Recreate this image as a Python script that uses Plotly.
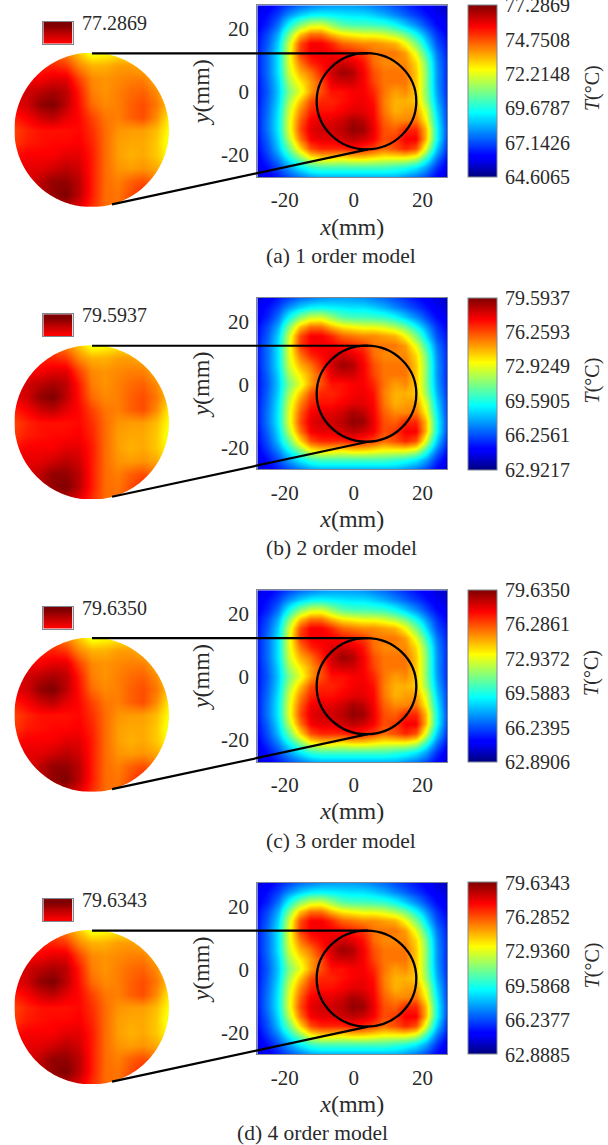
import numpy as np
import plotly.graph_objects as go

W, H = 608, 1145
FONT = "Liberation Serif"
INK = "#2a2a2a"
FRAME = "#7f8794"

CAPTIONS = ["(a) 1 order model", "(b) 2 order model", "(c) 3 order model", "(d) 4 order model"]
CAPTION_X = [341, 341, 341, 312]
T_MAX = [77.2869, 79.5937, 79.6350, 79.6343]
T_MIN = [64.6065, 62.9217, 62.8906, 62.8885]
CBAR_TICKS = [
    [64.6065, 67.1426, 69.6787, 72.2148, 74.7508, 77.2869],
    [62.9217, 66.2561, 69.5905, 72.9249, 76.2593, 79.5937],
    [62.8906, 66.2395, 69.5883, 72.9372, 76.2861, 79.6350],
    [62.8885, 66.2377, 69.5868, 72.9360, 76.2852, 79.6343],
]
TICK_TEXT = [
    ["64.6065", "67.1426", "69.6787", "72.2148", "74.7508", "77.2869"],
    ["62.9217", "66.2561", "69.5905", "72.9249", "76.2593", "79.5937"],
    ["62.8906", "66.2395", "69.5883", "72.9372", "76.2861", "79.6350"],
    ["62.8885", "66.2377", "69.5868", "72.9360", "76.2852", "79.6343"],
]
AX_TICKS = [-20, 0, 20]
AX_TEXT = ["-20", "0", "20"]

FIELD_PCT = [
    [8, 11, 15, 19, 23, 25, 27, 28, 28, 28, 27, 25, 23, 20, 17, 14, 11, 8, 6],
    [10, 14, 19, 27, 33, 37, 38, 37, 36, 35, 35, 33, 30, 26, 22, 18, 14, 10, 8],
    [11, 16, 24, 38, 50, 57, 58, 52, 46, 44, 44, 43, 42, 38, 32, 26, 19, 13, 10],
    [13, 20, 30, 50, 68, 76, 76, 69, 64, 62, 60, 60, 58, 54, 48, 38, 27, 17, 12],
    [14, 22, 34, 58, 80, 88, 88, 84, 78, 76, 74, 74, 72, 70, 62, 50, 34, 20, 14],
    [15, 24, 36, 60, 82, 88, 89, 88, 86, 84, 82, 76, 76, 76, 72, 60, 42, 24, 15],
    [15, 24, 36, 60, 76, 84, 87, 90, 92, 90, 86, 77, 74, 74, 74, 66, 48, 26, 16],
    [15, 24, 36, 58, 70, 76, 84, 92, 97, 95, 88, 80, 76, 76, 76, 68, 50, 27, 16],
    [14, 23, 34, 54, 64, 72, 80, 90, 92, 92, 88, 81, 76, 76, 76, 68, 50, 27, 16],
    [14, 22, 33, 50, 60, 72, 80, 86, 86, 88, 88, 84, 76, 72, 74, 68, 50, 28, 16],
    [14, 23, 34, 54, 68, 80, 84, 84, 86, 88, 89, 86, 75, 70, 70, 68, 52, 30, 17],
    [15, 24, 36, 58, 74, 84, 86, 86, 88, 90, 90, 87, 76, 70, 72, 72, 58, 33, 18],
    [15, 25, 37, 60, 78, 88, 90, 90, 92, 96, 94, 88, 78, 74, 74, 76, 62, 36, 18],
    [15, 25, 37, 60, 80, 90, 92, 92, 94, 98, 97, 89, 80, 78, 84, 84, 68, 38, 19],
    [14, 23, 35, 56, 76, 88, 90, 90, 92, 94, 92, 88, 80, 82, 88, 88, 68, 38, 18],
    [13, 21, 32, 48, 66, 80, 84, 84, 84, 86, 84, 81, 77, 80, 84, 80, 58, 32, 16],
    [11, 18, 26, 38, 50, 62, 66, 66, 64, 66, 66, 64, 62, 62, 62, 58, 42, 24, 13],
    [9, 14, 20, 28, 36, 42, 44, 44, 44, 44, 44, 44, 44, 42, 40, 36, 28, 17, 10],
    [7, 11, 15, 20, 24, 28, 30, 30, 30, 30, 30, 30, 30, 30, 27, 24, 19, 12, 7],
]
# Enlarged circular region, percent of the colour range (top row first)
INSET_PCT = [
    [80, 80, 80, 78, 74, 68, 60, 62, 64, 64, 66, 66, 66],
    [84, 84, 84, 84, 82, 74, 70, 70, 72, 72, 70, 66, 64],
    [88, 88, 88, 90, 90, 81, 74, 73, 74, 75, 75, 70, 66],
    [90, 92, 94, 96, 94, 85, 75, 73, 75, 77, 78, 74, 66],
    [90, 92, 98, 100, 94, 86, 77, 74, 75, 78, 80, 76, 68],
    [85, 88, 92, 94, 90, 87, 81, 76, 75, 78, 80, 74, 64],
    [81, 84, 86, 86, 86, 87, 83, 77, 73, 72, 72, 69, 62],
    [82, 85, 86, 87, 87, 88, 84, 77, 72, 71, 71, 68, 60],
    [86, 88, 88, 88, 90, 90, 85, 77, 72, 70, 71, 68, 62],
    [90, 90, 90, 92, 94, 92, 85, 77, 73, 72, 73, 71, 66],
    [90, 90, 94, 98, 98, 94, 85, 77, 75, 78, 80, 76, 70],
    [90, 90, 94, 98, 100, 94, 85, 77, 76, 80, 84, 80, 76],
    [90, 90, 92, 94, 94, 90, 83, 77, 76, 80, 84, 80, 78],
]
SWATCH_PCT = [[100], [96], [92], [88]]

JET = [[0, "#00007f"], [0.11, "#0000ff"], [0.125, "#0000ff"], [0.375, "#00ffff"], [0.5, "#7fff7f"],
       [0.625, "#ffff00"], [0.875, "#ff0000"], [1, "#7f0000"]]

ROW_STEP = 292.45


def xdom(a, b):
    return [a / W, b / W]


def ydom(top, bot):
    return [1 - bot / H, 1 - top / H]


fig = go.Figure()
layout = {}
shapes = []
annots = []
n = 0
for r in range(4):
    off = r * ROW_STEP
    lo, hi = T_MIN[r], T_MAX[r]
    to_t = lambda grid: (lo + np.array(grid[::-1], float) / 100 * (hi - lo)).round(3).tolist()

    # main map with colour bar
    ax = n + 1
    top, bot = 5.3 + off, 177 + off
    fig.add_trace(go.Heatmap(
        z=to_t(FIELD_PCT), x0=-28, dx=55.2 / 18, y0=-27, dy=54.5 / 18, zmin=lo, zmax=hi, zsmooth="best",
        colorscale=JET, xaxis=f"x{ax}", yaxis=f"y{ax}", hoverinfo="skip",
        colorbar=dict(
            x=467.7 / W, xanchor="left", y=1 - (top + bot) / 2 / H, yanchor="middle",
            len=(bot - top) / H, lenmode="fraction", thickness=29, thicknessmode="pixels",
            xpad=0, ypad=0, outlinecolor=FRAME, outlinewidth=1,
            tickmode="array", tickvals=CBAR_TICKS[r], ticktext=TICK_TEXT[r], ticks="outside", ticklen=4,
            tickcolor="rgba(0,0,0,0)", tickfont=dict(family=FONT, size=20, color=INK),
            ticklabeloverflow="allow",
        ),
    ))
    layout[f"xaxis{ax}"] = dict(
        domain=xdom(257.3, 447.3), range=[-28, 27.2], anchor=f"y{ax}", tickmode="array", tickvals=AX_TICKS,
        ticktext=AX_TEXT, ticks="", showgrid=False, zeroline=False, showline=True, mirror=True, linecolor=FRAME,
        linewidth=1, tickfont=dict(family=FONT, size=21, color=INK), ticklabelstandoff=4,
        title=dict(text="<i>x</i>(mm)", font=dict(family=FONT, size=24, color=INK), standoff=6),
    )
    layout[f"yaxis{ax}"] = dict(
        domain=ydom(top, bot), range=[-27.0, 27.5], anchor=f"x{ax}", tickmode="array", tickvals=AX_TICKS,
        ticktext=AX_TEXT, ticks="", showgrid=False, zeroline=False, showline=True, mirror=True, linecolor=FRAME,
        linewidth=1, tickfont=dict(family=FONT, size=21, color=INK), ticklabelstandoff=3,
        title=dict(text="<i>y</i>(mm)", font=dict(family=FONT, size=24, color=INK), standoff=4),
    )
    shapes.append(dict(type="circle", xref=f"x{ax}", yref=f"y{ax}", x0=-10.75, x1=18.2, y0=-18.2, y1=12.3,
                       line=dict(color="black", width=2.3)))

    # enlarged circular view
    ix = n + 2
    fig.add_trace(go.Heatmap(
        z=to_t(INSET_PCT), x0=-1, dx=2 / 12, y0=-1, dy=2 / 12, zmin=lo, zmax=hi, zsmooth="best", colorscale=JET,
        showscale=False, xaxis=f"x{ix}", yaxis=f"y{ix}", hoverinfo="skip",
    ))
    hidden = dict(visible=False, showgrid=False, zeroline=False, range=[-1, 1])
    layout[f"xaxis{ix}"] = dict(hidden, domain=xdom(14.3, 169), anchor=f"y{ix}")
    layout[f"yaxis{ix}"] = dict(hidden, domain=ydom(52.7 + off, 207 + off), anchor=f"x{ix}")
    # white mask round the disc, in page coordinates so that it also covers the image's outermost pixels
    cx, cy, rad = 91.65, 129.85 + off, 77.3
    th = np.linspace(0, 2 * np.pi, 241)[:-1]
    pt = lambda px, py: f"{px / W:.5f},{1 - py / H:.5f}"
    ring = "M" + "L".join(pt(cx + rad * np.cos(t), cy + rad * np.sin(t)) for t in th) + "Z"
    outer = "M" + "L".join(pt(cx + a * (rad + 4), cy + b * (rad + 4)) for a, b in [(-1, -1), (1, -1), (1, 1), (-1, 1)]) + "Z"
    shapes.append(dict(type="path", xref="paper", yref="paper", path=outer + ring,
                       fillcolor="white", line=dict(width=0), fillrule="evenodd"))

    # small colour swatch
    sx = n + 3
    fig.add_trace(go.Heatmap(
        z=to_t(SWATCH_PCT), zmin=lo, zmax=hi, zsmooth="best", colorscale=JET, showscale=False,
        xaxis=f"x{sx}", yaxis=f"y{sx}", hoverinfo="skip",
    ))
    layout[f"xaxis{sx}"] = dict(domain=xdom(43.3, 72.5), anchor=f"y{sx}", showticklabels=False, ticks="", showgrid=False,
                                zeroline=False, showline=True, mirror=True, linecolor=FRAME, linewidth=1)
    layout[f"yaxis{sx}"] = dict(domain=ydom(21.7 + off, 43.8 + off), anchor=f"x{sx}", showticklabels=False, ticks="",
                                showgrid=False, zeroline=False, showline=True, mirror=True, linecolor=FRAME, linewidth=1)
    annots.append(dict(text=TICK_TEXT[r][-1], xref="paper", yref="paper", x=79.5 / W, y=1 - (23 + off) / H, xanchor="left",
                       yanchor="middle", showarrow=False, font=dict(family=FONT, size=20, color=INK)))

    # connector lines
    for (x0, y0, x1, y1) in [(92, 53.3, 368, 53.3), (112, 204.3, 368, 149.3)]:
        shapes.append(dict(type="line", xref="paper", yref="paper", x0=x0 / W, x1=x1 / W, y0=1 - (y0 + off) / H,
                           y1=1 - (y1 + off) / H, line=dict(color="black", width=2.2)))

    annots.append(dict(text="<i>T</i>(°C)", xref="paper", yref="paper", x=592 / W, y=1 - (88 + off) / H, textangle=-90,
                       showarrow=False, xanchor="center", yanchor="middle", font=dict(family=FONT, size=20, color=INK)))
    annots.append(dict(text=CAPTIONS[r], xref="paper", yref="paper", x=CAPTION_X[r] / W, y=1 - (256 + off) / H,
                       showarrow=False, xanchor="center", yanchor="middle", font=dict(family=FONT, size=21.5, color=INK)))
    n += 3

fig.update_layout(width=W, height=H, margin=dict(l=0, r=0, t=0, b=0), paper_bgcolor="white", plot_bgcolor="white",
                  shapes=shapes, annotations=annots, showlegend=False, **layout)
fig.write_html("out.html", config={"displayModeBar": False}, post_script="document.body.style.margin='0';")
